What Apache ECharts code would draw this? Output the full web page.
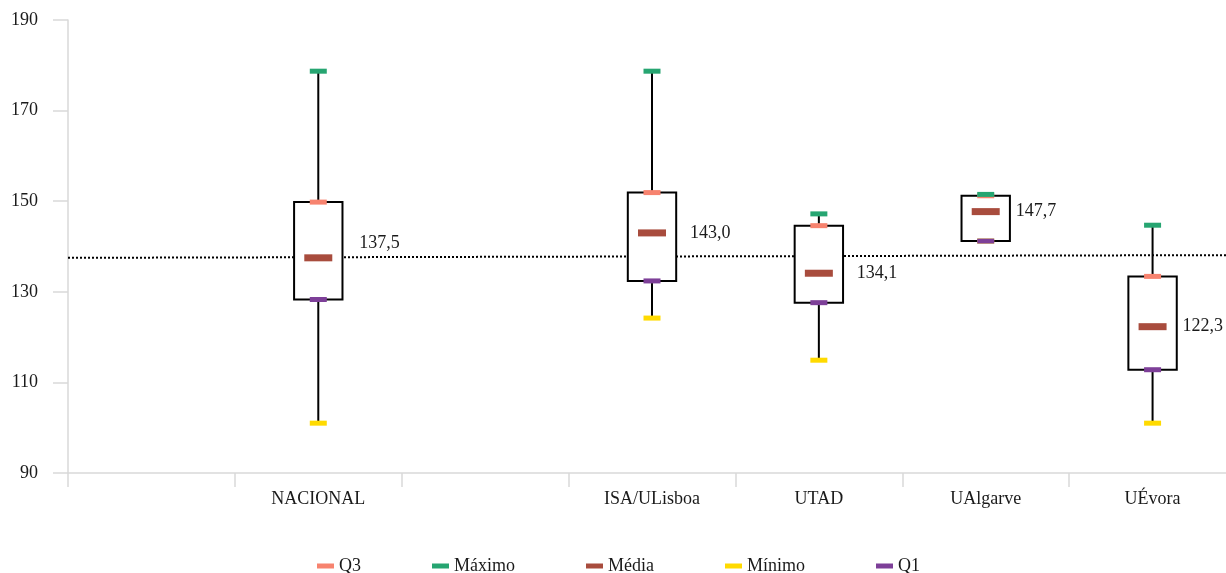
<!DOCTYPE html>
<html>
<head>
<meta charset="utf-8">
<script src="https://cdn.jsdelivr.net/npm/echarts@6/dist/echarts.min.js"></script>
<style>
  html, body { margin: 0; padding: 0; background: #ffffff; }
  #chart { width: 1226px; height: 573px; }
</style>
</head>
<body>
<div id="chart"></div>
<script>
// ---- data ----
const categories = ['', 'NACIONAL', '', 'ISA/ULisboa', 'UTAD', 'UAlgarve', 'UÉvora'];
const maximo = [null, 178.7, null, 178.7, 147.2, 151.5, 144.7];
const q3     = [null, 149.8, null, 151.9, 144.6, 151.2, 133.4];
const media  = [null, 137.5, null, 143.0, 134.1, 147.7, 122.3];
const q1     = [null, 128.3, null, 132.4, 127.6, 141.2, 112.8];
const minimo = [null, 101.0, null, 124.2, 114.9, 141.2, 101.0];
const nationalLine = [137.5, 138.1];           // dotted reference line, left and right ends
const yTicks = [90, 110, 130, 150, 170, 190];
const legendNames = ['Q3', 'Máximo', 'Média', 'Mínimo', 'Q1'];

// ---- styles ----
const FONT = 'Liberation Serif';
const colors = { 'Q3': '#F7836F', 'Máximo': '#26A571', 'Média': '#A84C3D', 'Mínimo': '#FFDA00', 'Q1': '#7D3F98' };
const meanLabelShift = { 1: [11, -15], 3: [8, 0], 4: [8, 0] };

const boxData = [];
categories.forEach((c, i) => {
  if (q1[i] != null) boxData.push([i, minimo[i], q1[i], q3[i], maximo[i]]);
});

function pts(arr) {
  return arr.map((v, i) => v == null ? null : [i, v]).filter(Boolean);
}

function markerSeries(name, arr, size) {
  return {
    name: name,
    type: 'scatter',
    xAxisIndex: 0,
    symbol: 'rect',
    symbolSize: size,
    itemStyle: { color: colors[name], opacity: 1 },
    z: 5,
    silent: true,
    data: pts(arr)
  };
}

const meanSeries = markerSeries('Média', media, [28, 7]);
meanSeries.data = media.map((v, i) => {
  if (v == null) return null;
  const sh = meanLabelShift[i] || [0, 0];
  return {
    value: [i, v],
    label: { offset: sh }
  };
}).filter(Boolean);
meanSeries.label = {
  show: true,
  position: 'right',
  distance: 16,
  fontFamily: FONT,
  fontSize: 18,
  color: '#1a1a1a',
  formatter: p => p.value[1].toFixed(1).replace('.', ',')
};

const option = {
  animation: false,
  backgroundColor: '#ffffff',
  grid: { left: 68, width: 1168, top: 20, bottom: 100, containLabel: false, outerBoundsMode: 'none' },
  textStyle: { fontFamily: FONT },
  legend: {
    data: legendNames,
    left: 312,
    top: 552,
    icon: 'rect',
    itemWidth: 17,
    itemHeight: 5,
    itemGap: 71,
    textStyle: { fontFamily: FONT, fontSize: 18, color: '#1a1a1a' }
  },
  xAxis: [{
    type: 'category',
    data: categories,
    boundaryGap: true,
    axisLine: { show: true, lineStyle: { color: '#D9D9D9', width: 1.5 } },
    axisTick: { show: true, length: 14, interval: 0, lineStyle: { color: '#D9D9D9', width: 1.5 } },
    axisLabel: { interval: 0, margin: 17, fontFamily: FONT, fontSize: 18, color: '#1a1a1a' },
    splitLine: { show: false }
  }, {
    type: 'value',
    min: 0, max: 1,
    show: false
  }],
  yAxis: {
    type: 'value',
    min: 90,
    max: 190,
    axisLine: { show: true, lineStyle: { color: '#D9D9D9', width: 1.5 } },
    axisTick: { show: true, length: 15, customValues: yTicks, lineStyle: { color: '#D9D9D9', width: 1.5 } },
    axisLabel: { customValues: yTicks, margin: 30, fontFamily: FONT, fontSize: 18, color: '#1a1a1a' },
    splitLine: { show: false }
  },
  series: [
    {
      name: 'ref',
      type: 'line',
      xAxisIndex: 1,
      data: [[0, nationalLine[0]], [1, nationalLine[1]]],
      symbol: 'none',
      silent: true,
      z: 1,
      lineStyle: { color: '#000000', width: 2, type: [2, 2] }
    },
    {
      name: 'box',
      type: 'custom',
      xAxisIndex: 0,
      z: 2,
      silent: true,
      encode: { x: 0, y: [1, 2, 3, 4] },
      data: boxData,
      renderItem: function (params, api) {
        const x = api.value(0);
        const pMin = api.coord([x, api.value(1)]);
        const pQ1 = api.coord([x, api.value(2)]);
        const pQ3 = api.coord([x, api.value(3)]);
        const pMax = api.coord([x, api.value(4)]);
        const w = api.size([1, 0])[0] * 0.29;
        const lineStyle = { stroke: '#000000', lineWidth: 2, fill: null };
        return {
          type: 'group',
          children: [
            { type: 'line', shape: { x1: pMax[0], y1: pMax[1], x2: pQ3[0], y2: pQ3[1] }, style: lineStyle },
            { type: 'line', shape: { x1: pQ1[0], y1: pQ1[1], x2: pMin[0], y2: pMin[1] }, style: lineStyle },
            { type: 'rect', shape: { x: pQ3[0] - w / 2, y: pQ3[1], width: w, height: pQ1[1] - pQ3[1] },
              style: { stroke: '#000000', lineWidth: 2, fill: '#ffffff' } }
          ]
        };
      }
    },
    markerSeries('Q3', q3, [17, 5]),
    markerSeries('Máximo', maximo, [17, 5]),
    meanSeries,
    markerSeries('Mínimo', minimo, [17, 5]),
    markerSeries('Q1', q1, [17, 5])
  ]
};

const chart = echarts.init(document.getElementById('chart'), null, { renderer: 'canvas' });
chart.setOption(option);
</script>
</body>
</html>
